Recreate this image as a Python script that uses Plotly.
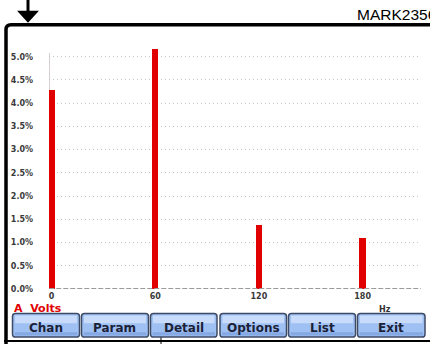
import plotly.graph_objects as go

# Harmonic spectrum of channel A voltage
freqs_hz = [0, 60, 120, 180]
amplitude_pct = [4.29, 5.16, 1.38, 1.09]
y_tick_vals = [0.0, 0.5, 1.0, 1.5, 2.0, 2.5, 3.0, 3.5, 4.0, 4.5, 5.0]
y_tick_text = ["0.0%", "0.5%", "1.0%", "1.5%", "2.0%", "2.5%", "3.0%", "3.5%", "4.0%", "4.5%", "5.0%"]
x_tick_vals = [0, 60, 120, 180]
x_tick_text = ["0", "60", "120", "180"]
button_labels = ["Chan", "Param", "Detail", "Options", "List", "Exit"]

W, H = 430, 349


def px(x):
    return x / W


def py(y):
    return 1 - y / H


fig = go.Figure()
fig.add_trace(go.Bar(
    x=freqs_hz, y=amplitude_pct, width=3.8,
    marker=dict(color="#e00000", line=dict(width=0)),
    hoverinfo="skip",
))

shapes = []
annotations = []

# vertical axis line and dashed baseline
shapes.append(dict(type="line", xref="x", yref="y", x0=-1.3, x1=-1.3, y0=0, y1=5.08,
                   line=dict(color="#d6d0d0", width=1.5), layer="below"))
shapes.append(dict(type="line", xref="x", yref="y", x0=-1.3, x1=213.8, y0=0, y1=0,
                   line=dict(color="#9a9a9a", width=2, dash="5px,2px"), layer="above"))

# device frame
shapes.append(dict(type="path", xref="paper", yref="paper",
                   path=f"M {px(6)},{py(349)} L {px(6)},{py(30)} Q {px(6)},{py(25)} {px(11)},{py(25)} L {px(432)},{py(25)}",
                   line=dict(color="black", width=3.5)))
shapes.append(dict(type="line", xref="paper", yref="paper", x0=px(4), x1=px(432), y0=py(346), y1=py(346),
                   line=dict(color="black", width=2)))

# pointer arrow at top-left
shapes.append(dict(type="line", xref="paper", yref="paper", x0=px(28), x1=px(28), y0=py(0), y1=py(13),
                   line=dict(color="black", width=3)))
shapes.append(dict(type="path", xref="paper", yref="paper",
                   path=f"M {px(17)},{py(11)} L {px(39)},{py(11)} L {px(28)},{py(23)} Z",
                   fillcolor="black", line=dict(color="black", width=0)))

# pointer line below the Detail button
shapes.append(dict(type="line", xref="paper", yref="paper", x0=px(161), x1=px(161), y0=py(335), y1=py(349),
                   line=dict(color="black", width=1)))

# soft-key buttons
btn_x = [(12.5, 79.5), (81.5, 148.5), (150.5, 217), (220, 286.5), (288.5, 355.5), (357.5, 425)]
top, bot = 318, 342
for (x0, x1), label in zip(btn_x, button_labels):
    r = 3
    path = (f"M {px(x0 + r)},{py(top)} L {px(x1 - r)},{py(top)} Q {px(x1)},{py(top)} {px(x1)},{py(top + r)} "
            f"L {px(x1)},{py(bot - r)} Q {px(x1)},{py(bot)} {px(x1 - r)},{py(bot)} "
            f"L {px(x0 + r)},{py(bot)} Q {px(x0)},{py(bot)} {px(x0)},{py(bot - r)} "
            f"L {px(x0)},{py(top + r)} Q {px(x0)},{py(top)} {px(x0 + r)},{py(top)} Z")
    shapes.append(dict(type="path", xref="paper", yref="paper", path=path,
                       fillcolor="#9fc0f3", line=dict(color="#3e4b66", width=1.5)))
    shapes.append(dict(type="rect", xref="paper", yref="paper",
                       x0=px(x0 + 2.5), x1=px(x1 - 2.5), y0=py(320), y1=py(328),
                       fillcolor="#c8dbfb", line=dict(width=0)))
    shapes.append(dict(type="rect", xref="paper", yref="paper",
                       x0=px(x0 + 2), x1=px(x1 - 2), y0=py(337), y1=py(340.5),
                       fillcolor="#86a9e4", line=dict(width=0)))
    annotations.append(dict(xref="paper", yref="paper", x=px((x0 + x1) / 2), y=py(332.5),
                            text=f"<b>{label}</b>", showarrow=False, xanchor="center", yanchor="middle",
                            font=dict(family="DejaVu Sans", size=12, color="#1b2238")))

annotations.append(dict(xref="paper", yref="paper", x=px(12), y=py(313), text="<b>A  Volts</b>",
                        showarrow=False, xanchor="left", yanchor="middle",
                        font=dict(family="DejaVu Sans", size=11, color="#e00000")))
annotations.append(dict(xref="paper", yref="paper", x=px(385), y=py(313.5), text="<b>Hz</b>",
                        showarrow=False, xanchor="center", yanchor="middle",
                        font=dict(family="DejaVu Sans", size=8, color="#333333")))
annotations.append(dict(xref="paper", yref="paper", x=px(355), y=py(15), text="MARK2356",
                        showarrow=False, xanchor="left", yanchor="middle",
                        font=dict(family="Liberation Sans", size=15.5, color="black")))

y0_px, y_per_pct, y_top = 293.3, 47.15, 5.25
tick_font = dict(family="DejaVu Sans", size=8, color="#3a3a3a", weight="bold")
fig.update_layout(
    width=W, height=H, autosize=False,
    margin=dict(l=0, r=0, t=0, b=0),
    paper_bgcolor="white", plot_bgcolor="white",
    showlegend=False, bargap=0,
    shapes=shapes, annotations=annotations,
    xaxis=dict(
        domain=[49 / W, 421 / W], range=[-1.45, 213.8],
        tickvals=x_tick_vals, ticktext=x_tick_text,
        showgrid=False, zeroline=False, showline=False, ticks="",
        ticklabelstandoff=1,
        tickfont=tick_font,
        fixedrange=True,
    ),
    yaxis=dict(
        domain=[(H - y0_px) / H, (H - y0_px + y_top * y_per_pct) / H], range=[0, y_top],
        tickvals=y_tick_vals, ticktext=y_tick_text,
        showgrid=True, gridcolor="#c4c4c4", gridwidth=1, griddash="1px,3px",
        zeroline=False, showline=False, ticks="",
        ticklabelstandoff=15,
        tickfont=tick_font,
        fixedrange=True,
    ),
)

fig.write_html("out.html", config=dict(displayModeBar=False))
